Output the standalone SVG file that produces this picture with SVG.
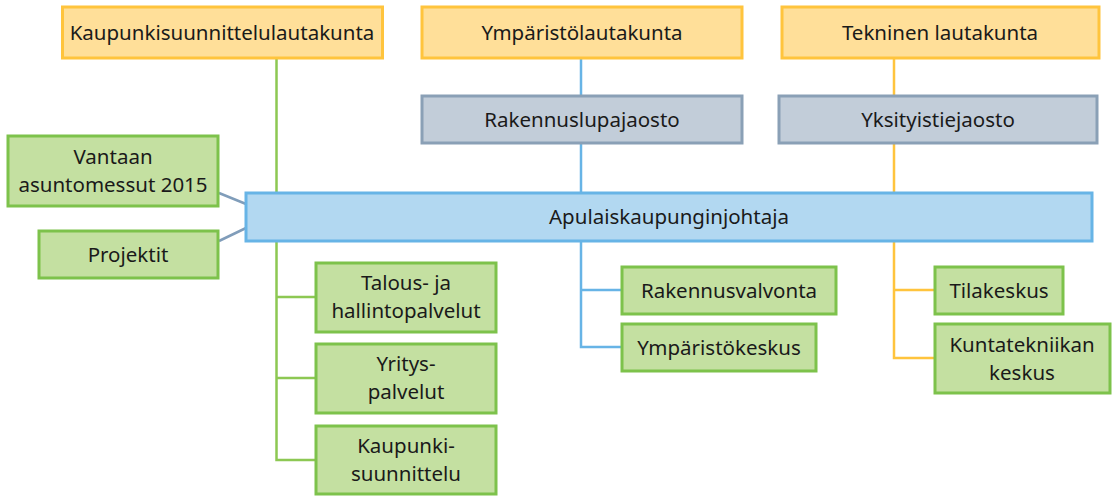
<svg xmlns="http://www.w3.org/2000/svg" width="1113" height="496" viewBox="0 0 1113 496">
<style>
text{font-family:"Noto Sans","Liberation Sans",sans-serif;font-size:20.5px;fill:#1a1a1a;text-anchor:middle}
.org{fill:#FFDF99;stroke:#FFC43D;stroke-width:3}
.gry{fill:#C2CDD9;stroke:#8AA0B6;stroke-width:3}
.blu{fill:#B2D8F1;stroke:#67B4E6;stroke-width:3}
.grn{fill:#C4E0A1;stroke:#7DC24B;stroke-width:3}
.lg{stroke:#8DC853;stroke-width:2.5;fill:none}
.lb{stroke:#67B4E6;stroke-width:2.5;fill:none}
.lo{stroke:#FFC43D;stroke-width:2.5;fill:none}
.ls{stroke:#809DBA;stroke-width:2.5;fill:none}
</style>
<g id="connectors">
<path class="lg" d="M276.5 59V460H316M276.5 297H316M276.5 378H316"/>
<path class="lb" d="M581 59V96M581 143V192M581 242V347H622M581 290H622"/>
<path class="lo" d="M894 59V96M894 143V192M894 242V358H935M894 290H935"/>
<path class="ls" d="M219 193L246 204M219 241L246 228"/>
</g>
<g id="n1"><rect class="org" x="62.5" y="7" width="320" height="51"/><text x="222" y="40">Kaupunkisuunnittelulautakunta</text></g>
<g id="n2"><rect class="org" x="422" y="7" width="320" height="51"/><text x="582" y="40">Ympäristölautakunta</text></g>
<g id="n3"><rect class="org" x="782" y="7" width="317" height="51"/><text x="940" y="40">Tekninen lautakunta</text></g>
<g id="n4"><rect class="gry" x="422" y="96" width="320" height="47"/><text x="582" y="127">Rakennuslupajaosto</text></g>
<g id="n5"><rect class="gry" x="779" y="96" width="318" height="47"/><text x="938" y="127">Yksityistiejaosto</text></g>
<g id="n6"><rect class="blu" x="246" y="193" width="846" height="48"/><text x="669" y="224">Apulaiskaupunginjohtaja</text></g>
<g id="n7"><rect class="grn" x="8" y="136" width="210" height="70"/><text x="113" y="164">Vantaan</text><text x="113" y="192">asuntomessut 2015</text></g>
<g id="n8"><rect class="grn" x="39" y="231" width="179" height="47"/><text x="128" y="262">Projektit</text></g>
<g id="n9"><rect class="grn" x="316" y="263" width="180" height="69"/><text x="406" y="290">Talous- ja</text><text x="406" y="318">hallintopalvelut</text></g>
<g id="n10"><rect class="grn" x="316" y="344" width="180" height="69"/><text x="406" y="371">Yritys-</text><text x="406" y="399">palvelut</text></g>
<g id="n11"><rect class="grn" x="316" y="426" width="180" height="68"/><text x="406" y="453">Kaupunki-</text><text x="406" y="481">suunnittelu</text></g>
<g id="n12"><rect class="grn" x="622" y="267" width="214" height="47"/><text x="729" y="298">Rakennusvalvonta</text></g>
<g id="n13"><rect class="grn" x="622" y="324" width="194" height="47"/><text x="719" y="355">Ympäristökeskus</text></g>
<g id="n14"><rect class="grn" x="935" y="267" width="128" height="47"/><text x="999" y="298">Tilakeskus</text></g>
<g id="n15"><rect class="grn" x="935" y="324" width="175" height="69"/><text x="1022" y="352">Kuntatekniikan</text><text x="1022" y="380">keskus</text></g>
</svg>
